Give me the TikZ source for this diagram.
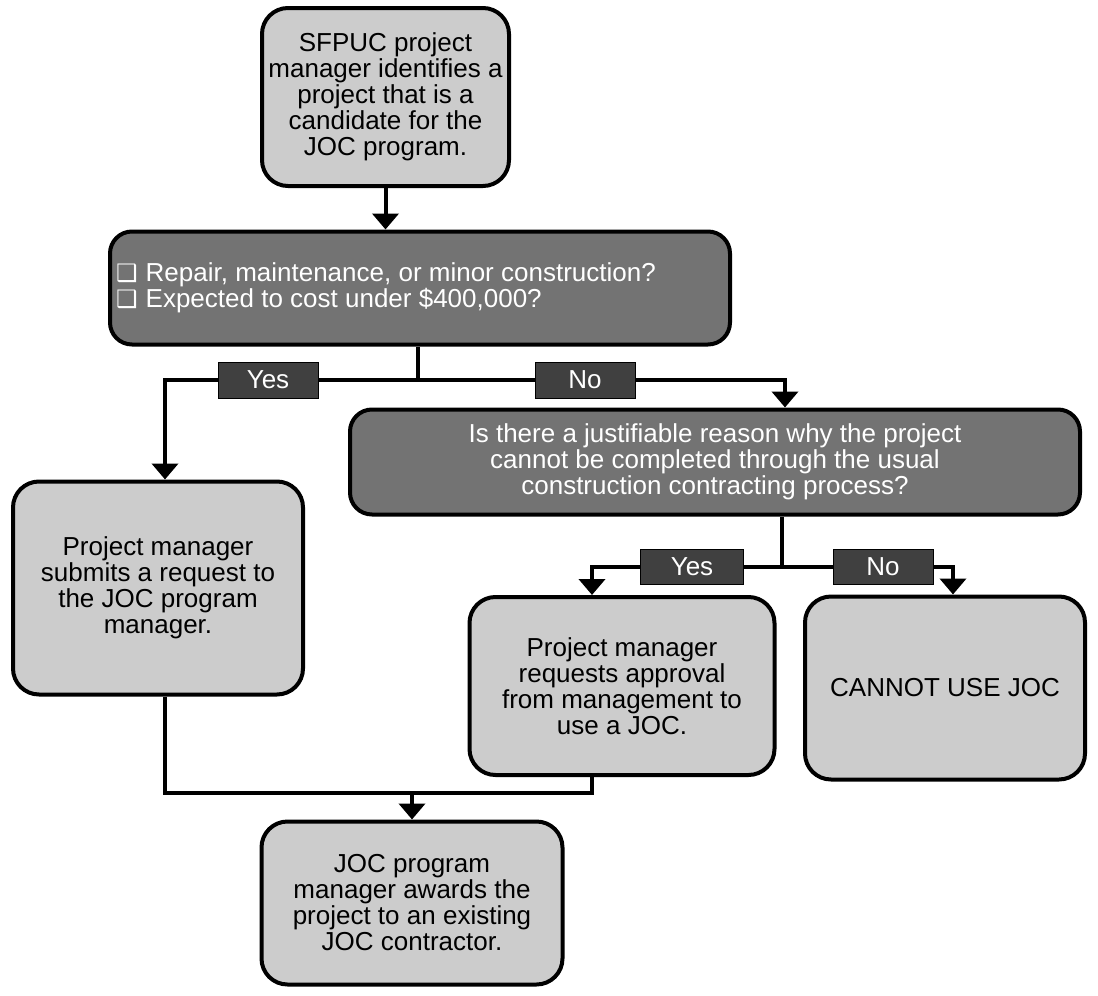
\documentclass[tikz,border=0pt]{standalone}
\usepackage{fontspec}
\setmainfont{Liberation Sans}
\newfontfamily\symfont{DejaVu Sans}
\usetikzlibrary{arrows.meta}
\definecolor{lightbox}{gray}{0.80}
\definecolor{darkbox}{gray}{0.45}
\definecolor{labelbox}{gray}{0.25}
\tikzset{
  lbox/.style={draw=black, line width=4pt, rounded corners=26pt, fill=lightbox,
    align=center, inner sep=0pt, font=\fontsize{26}{26}\selectfont},
  dbox/.style={draw=black, line width=4pt, rounded corners=22pt, fill=darkbox,
    text=white, inner sep=0pt, font=\fontsize{26}{26}\selectfont},
  lab/.style={draw=black, line width=1pt, fill=labelbox, text=white, inner sep=0pt,
    minimum width=100pt, minimum height=36pt, font=\fontsize{26}{26}\selectfont},
  conn/.style={line width=4pt},
  arr/.style={line width=4pt, -{Triangle[width=26pt,length=16pt]}},
}
\begin{document}
\begin{tikzpicture}[x=1pt,y=-1pt]
\useasboundingbox (0,0) rectangle (1098,996);
\node[lbox, minimum width=247pt, minimum height=178pt] (top) at (385.5,97)
  {SFPUC project\\manager identifies a\\project that is a\\candidate for the\\JOC program.};
\node[dbox, minimum width=620pt, minimum height=113pt, align=left] (q1) at (420,288)
  {\hspace*{-68pt}{\symfont\fontsize{24}{26}\selectfont ❑}\hspace{8pt}Repair, maintenance, or minor construction?\\
   \hspace*{-68pt}{\symfont\fontsize{24}{26}\selectfont ❑}\hspace{8pt}Expected to cost under \$400,000?};
\node[lab] (yes1) at (268,380) {Yes};
\node[lab] (no1) at (585,380) {No};
\node[lbox, minimum width=290pt, minimum height=213pt] (left) at (158,588)
  {Project manager\\submits a request to\\the JOC program\\manager.};
\node[dbox, minimum width=730pt, minimum height=105pt, align=center] (q2) at (715,462)
  {Is there a justifiable reason why the project\\cannot be completed through the usual\\construction contracting process?};
\node[lab, minimum width=103pt, minimum height=35pt] (yes2) at (692,567) {Yes};
\node[lab, minimum height=35pt] (no2) at (883,567) {No};
\node[lbox, minimum width=305pt, minimum height=178pt] (mid) at (622,686)
  {Project manager\\requests approval\\from management to\\use a JOC.};
\node[lbox, minimum width=280pt, minimum height=183pt] (cannot) at (945,688)
  {CANNOT USE JOC};
\node[lbox, minimum width=301pt, minimum height=163pt] (bot) at (412,903)
  {JOC program\\manager awards the\\project to an existing\\JOC contractor.};
% coordinates
\coordinate (j1) at (418,380);
\coordinate (c1) at (165,380);
\coordinate (c2) at (785,380);
\coordinate (j2) at (782,567);
\coordinate (c3) at (592,567);
\coordinate (c4) at (953,567);
\coordinate (m1) at (165,793);
\coordinate (m2) at (592,793);
\coordinate (m3) at (412,793);
% connectors
\draw[arr] (top.south) -- (top.south |- q1.north);
\draw[conn] (q1.south -| j1) -- (j1) -- (yes1.east);
\draw[conn] (j1) -- (no1.west);
\draw[arr] (yes1.west) -- (c1) -- (c1 |- left.north);
\draw[arr] (no1.east) -- (c2) -- (c2 |- q2.north);
\draw[conn] (q2.south -| j2) -- (j2) -- (yes2.east);
\draw[conn] (j2) -- (no2.west);
\draw[arr] (yes2.west) -- (c3) -- (c3 |- mid.north);
\draw[arr] (no2.east) -- (c4) -- (c4 |- cannot.north);
\draw[conn] (left.south -| m1) -- (m1) -- (m2) -- (mid.south -| m2);
\draw[arr] (m3) -- (m3 |- bot.north);
\end{tikzpicture}
\end{document}
